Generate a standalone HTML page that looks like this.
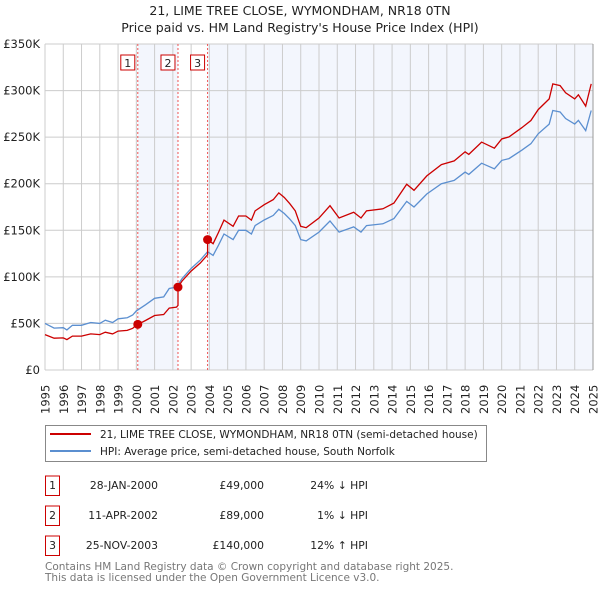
<!DOCTYPE html>
<html><head><meta charset="utf-8"><style>
body{margin:0;background:#fff;font-family:"DejaVu Sans","Liberation Sans",sans-serif;}
svg text{font-family:"DejaVu Sans","Liberation Sans",sans-serif;}
</style></head><body>
<svg id="chart" width="600" height="590" viewBox="0 0 600 590">
<text x="300" y="15" text-anchor="middle" font-size="12.5" fill="#222">21, LIME TREE CLOSE, WYMONDHAM, NR18 0TN</text>
<text x="300" y="32" text-anchor="middle" font-size="12.5" fill="#222">Price paid vs. HM Land Registry's House Price Index (HPI)</text>
<g id="plot"></g>
<g>
<rect x="45.5" y="425.5" width="441" height="36" fill="#fff" stroke="#888"/>
<line x1="50" y1="434" x2="91" y2="434" stroke="#cc0000" stroke-width="2"/>
<text x="100" y="438" font-size="10.5" fill="#222">21, LIME TREE CLOSE, WYMONDHAM, NR18 0TN (semi-detached house)</text>
<line x1="50" y1="451" x2="91" y2="451" stroke="#5b8fd0" stroke-width="2"/>
<text x="100" y="455" font-size="10.5" fill="#222">HPI: Average price, semi-detached house, South Norfolk</text>
</g>
<g id="table" font-size="10.8" fill="#222"></g>
<text x="45" y="570" font-size="10.5" fill="#777">Contains HM Land Registry data © Crown copyright and database right 2025.</text>
<text x="45" y="581" font-size="10.5" fill="#777">This data is licensed under the Open Government Licence v3.0.</text>
</svg>
<script>
const hpiYears=[1995.0,1995.5,1996.0,1996.2,1996.5,1997.0,1997.5,1998.0,1998.3,1998.7,1999.0,1999.5,1999.8,2000.0,2000.5,2001.0,2001.5,2001.8,2002.2,2002.5,2003.0,2003.5,2003.9,2004.2,2004.5,2004.8,2005.3,2005.6,2006.0,2006.3,2006.5,2007.0,2007.5,2007.8,2008.1,2008.4,2008.7,2009.0,2009.3,2010.0,2010.6,2011.1,2011.9,2012.3,2012.6,2013.5,2014.1,2014.8,2015.2,2015.9,2016.7,2017.4,2018.0,2018.2,2018.9,2019.6,2020.0,2020.4,2021.1,2021.6,2022.0,2022.6,2022.8,2023.2,2023.5,2024.0,2024.2,2024.6,2024.9];
const hpiValues=[50000,45000,45400,43000,48000,48000,51000,50000,53500,51000,55000,56000,59000,63500,70000,77000,78500,87500,89000,98000,109000,118000,127000,123000,134000,146000,140000,150000,150000,146000,155000,161000,166000,172500,168000,162000,155000,140000,138600,148000,160000,148000,153600,148000,155000,157000,162500,181000,175000,189000,200000,203600,212500,210000,222000,216000,225000,227000,236000,243000,253600,264000,278600,277000,270000,264000,268000,257000,278600];
const saleYears=[2000.08,2002.28,2003.9];
const salePrices=[49000,89000,140000];
const saleDates=["28-JAN-2000","11-APR-2002","25-NOV-2003"];
const saleLabels=["£49,000","£89,000","£140,000"];
const saleHpi=["24% ↓ HPI","1% ↓ HPI","12% ↑ HPI"];
const yTicks=[0,50000,100000,150000,200000,250000,300000,350000];
const yTickLabels=["£0","£50K","£100K","£150K","£200K","£250K","£300K","£350K"];
const xTicks=[1995,1996,1997,1998,1999,2000,2001,2002,2003,2004,2005,2006,2007,2008,2009,2010,2011,2012,2013,2014,2015,2016,2017,2018,2019,2020,2021,2022,2023,2024,2025];

const X0=45,X1=593,Y0=370,Y1=44;
const xs=y=>X0+(y-1995)/30*(X1-X0);
const ys=v=>Y0-v/350000*(Y0-Y1);
const NS="http://www.w3.org/2000/svg";
function mk(tag,attrs,parent){const e=document.createElementNS(NS,tag);for(const k in attrs)e.setAttribute(k,attrs[k]);parent.appendChild(e);return e;}
const plot=document.getElementById('plot');
function hpiAt(y){if(y<=hpiYears[0])return hpiValues[0];for(let i=1;i<hpiYears.length;i++){if(y<=hpiYears[i]){const t=(y-hpiYears[i-1])/(hpiYears[i]-hpiYears[i-1]);return hpiValues[i-1]+t*(hpiValues[i]-hpiValues[i-1]);}}return hpiValues[hpiValues.length-1];}
const ends=saleYears.concat([2025]);
for(let i=0;i<saleYears.length;i+=2){
 const r=mk('rect',{x:xs(saleYears[i]),y:Y1,width:xs(ends[i+1])-xs(saleYears[i]),height:Y0-Y1,fill:'#f3f6fd'},plot);
 
 
}
xTicks.forEach(t=>{
 const l=mk('line',{x1:xs(t),x2:xs(t),y1:Y1,y2:Y0,stroke:'#ccc','stroke-width':1},plot);
 
 
 const tx=mk('text',{x:0,y:0,'font-size':'11.5',fill:'#222',transform:`translate(${xs(t)+4.5},414) rotate(-90)`},plot);
 tx.textContent=t;
 
 
});
yTicks.forEach((t,i)=>{
 const l=mk('line',{x1:X0,x2:X1,y1:ys(t),y2:ys(t),stroke:'#ccc','stroke-width':1},plot);
 
 
 const tx=mk('text',{x:40,y:ys(t)+4,'font-size':'11.5',fill:'#222','text-anchor':'end'},plot);
 tx.textContent=yTickLabels[i];
 
 
});
saleYears.forEach((s,i)=>{
 const l=mk('line',{x1:xs(s),x2:xs(s),y1:Y1,y2:Y0,stroke:'#e55','stroke-width':1,'stroke-dasharray':'2,2'},plot);
 
 
 const b=mk('rect',{x:xs(s)-17,y:55,width:14,height:15,fill:'#fff',stroke:'#c00'},plot);
 
 
 const t=mk('text',{x:xs(s)-10,y:67,'font-size':'11','text-anchor':'middle',fill:'#222'},plot);
 t.textContent=i+1;
 
 
});
let d='';
hpiYears.forEach((y,i)=>{d+=(i?'L':'M')+xs(y).toFixed(1)+','+ys(hpiValues[i]).toFixed(1);});
const hp=mk('path',{d:d,fill:'none',stroke:'#5b8fd0','stroke-width':1.3},plot);


let rd='';
hpiYears.forEach((y,i)=>{
 let k=-1;for(let j=0;j<saleYears.length;j++)if(y>=saleYears[j])k=j;
 const base=k<0?0:k;
 const v=salePrices[base]*hpiValues[i]/hpiAt(saleYears[base]);
 rd+=(i?'L':'M')+xs(y).toFixed(1)+','+ys(v).toFixed(1);
 if(i+1<hpiYears.length){saleYears.forEach((s,j)=>{if(s>y&&s<=hpiYears[i+1]){const pv=salePrices[Math.max(j-1,0)]*hpiAt(s)/hpiAt(saleYears[Math.max(j-1,0)]);rd+='L'+xs(s).toFixed(1)+','+ys(j===0?salePrices[0]:pv).toFixed(1)+'L'+xs(s).toFixed(1)+','+ys(salePrices[j]).toFixed(1);}});}
});
const rp=mk('path',{d:rd,fill:'none',stroke:'#cc0000','stroke-width':1.3},plot);


saleYears.forEach((s,i)=>{
 const c=mk('circle',{cx:xs(s),cy:ys(salePrices[i]),r:4.5,fill:'#cc0000'},plot);
 
 
});
mk('line',{x1:X1,x2:X1,y1:Y1,y2:Y0,stroke:'#999'},plot);
const tb=document.getElementById('table');
saleYears.forEach((s,i)=>{
 const yy=489+i*30;
 const b=mk('rect',{x:45.5,y:yy-13,width:14,height:19.5,fill:'#fff',stroke:'#c00'},tb);
 
 
 const n=mk('text',{x:52.5,y:yy,'text-anchor':'middle'},tb);n.textContent=i+1;
 
 
 const a=mk('text',{x:158,y:yy,'text-anchor':'end'},tb);a.textContent=saleDates[i];
 
 
 const p=mk('text',{x:264,y:yy,'text-anchor':'end'},tb);p.textContent=saleLabels[i];
 
 
 const h=mk('text',{x:368,y:yy,'text-anchor':'end'},tb);h.textContent=saleHpi[i];
 
 
});
</script>
</body></html>
